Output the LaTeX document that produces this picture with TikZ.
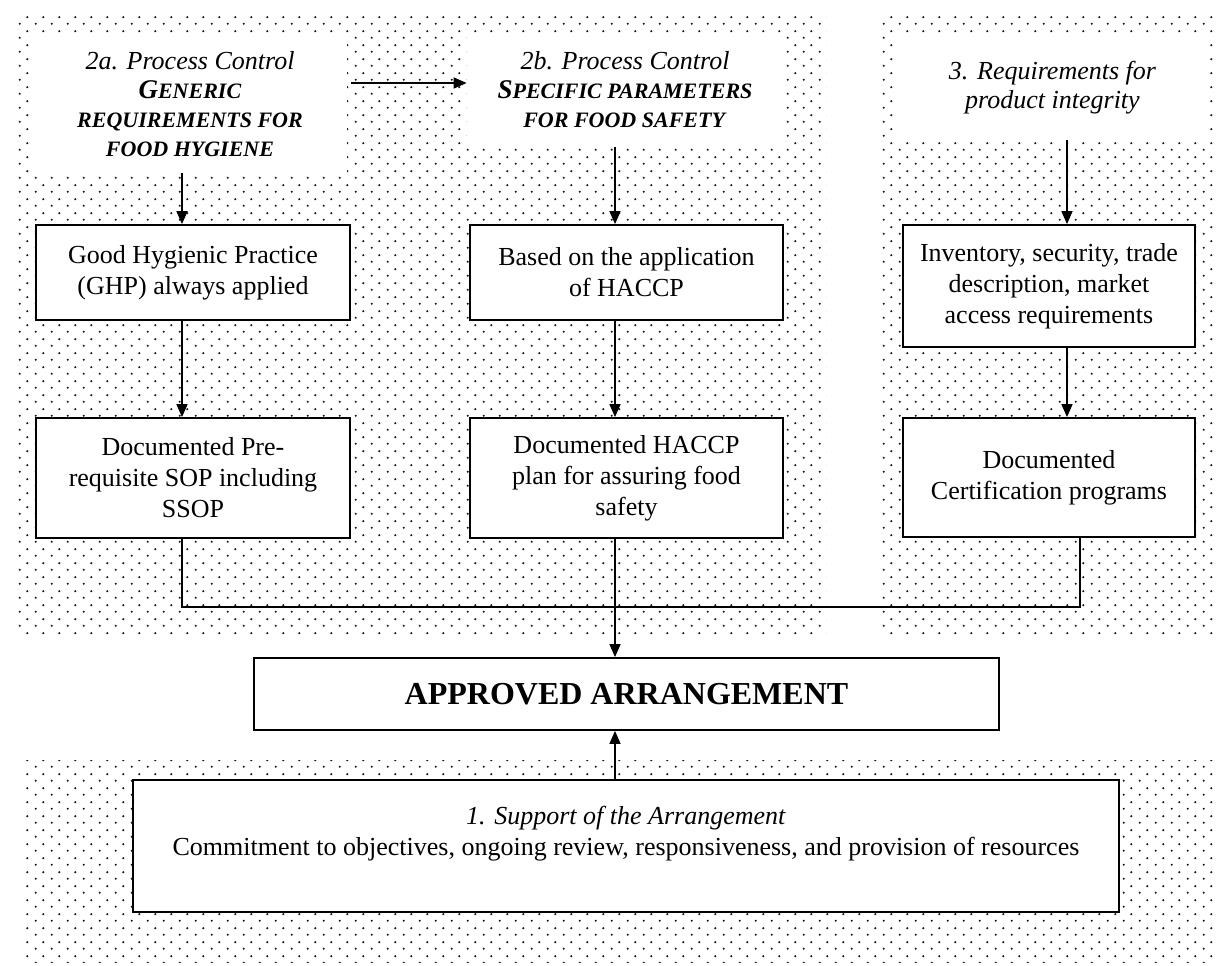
\documentclass[tikz,border=0pt]{standalone}
\usepackage{fontspec}
\setmainfont{Liberation Serif}
\usetikzlibrary{arrows.meta,patterns}

% screen of dots behind the panels
\pgfdeclarepatternformonly{hdots}{\pgfpointorigin}{\pgfpoint{8pt}{7pt}}{\pgfpoint{8pt}{7pt}}{%
  \pgfpathcircle{\pgfpoint{2pt}{1.75pt}}{0.62pt}%
  \pgfpathcircle{\pgfpoint{6pt}{5.25pt}}{0.62pt}%
  \pgfusepath{fill}%
}
\newcommand{\capsm}[1]{{\fontsize{11pt}{14.5pt}\selectfont #1}}

\begin{document}
\begin{tikzpicture}[x=0.5pt,y=-0.5pt,
  panel/.style={pattern=hdots,pattern color=black!90},
  head/.style={fill=white,inner sep=0pt,align=center,font=\fontsize{13pt}{14.5pt}\selectfont},
  box/.style={draw,fill=white,line width=0.9pt,inner sep=0pt,align=center,font=\fontsize{13pt}{15.5pt}\selectfont},
  arr/.style={line width=0.75pt,-{Triangle[length=6.5pt,width=5.5pt]}},
  link/.style={line width=0.75pt}]
  \useasboundingbox (0,0) rectangle (1222,965);
  \fill[white] (0,0) rectangle (1222,965);
  % dotted panels
  \fill[panel] (15,13) rectangle (826,637);
  \fill[panel] (880,13) rectangle (1218,637);
  \fill[panel] (22,760) rectangle (1218,962);
  % headers
  \node[head,minimum width=157pt,minimum height=68.5pt] (h2a) at (190,104)
    {\textit{2a. Process Control}\\ \textbf{\textit{{\fontsize{13.5pt}{14.5pt}\selectfont G}\capsm{ENERIC}}}\\
     \textbf{\textit{\capsm{REQUIREMENTS FOR}}}\\ \textbf{\textit{\capsm{FOOD HYGIENE}}}};
  \node[head,minimum width=158pt,minimum height=57pt] (h2b) at (625,90)
    {\textit{2b. Process Control}\\ \textbf{\textit{{\fontsize{13.5pt}{14.5pt}\selectfont S}\capsm{PECIFIC PARAMETERS}}}\\
     \textbf{\textit{\capsm{FOR FOOD SAFETY}}}};
  \node[head,minimum width=157.5pt,minimum height=52.5pt] (h3) at (1052.5,87.5)
    {\textit{3. Requirements for}\\ \textit{product integrity}};
  % boxes
  \node[box,minimum width=157pt,minimum height=47.5pt] (ghp) at (193,272.5)
    {Good Hygienic Practice\\(GHP) always applied};
  \node[box,minimum width=157pt,minimum height=60pt] (prq) at (193,478)
    {Documented Pre-\\requisite SOP including\\SSOP};
  \node[box,minimum width=156.5pt,minimum height=47.5pt] (hac) at (626.5,272.5)
    {Based on the application\\of HACCP};
  \node[box,minimum width=156.5pt,minimum height=60pt] (plan) at (626.5,478)
    {Documented HACCP\\plan for assuring food\\safety};
  \node[box,minimum width=146pt,minimum height=61pt] (inv) at (1049,286)
    {Inventory, security, trade\\description, market\\access requirements};
  \node[box,minimum width=146pt,minimum height=59.5pt] (cert) at (1049,477.5)
    {Documented\\Certification programs};
  \node[box,minimum width=372.5pt,minimum height=36pt,font=\fontsize{16pt}{19pt}\selectfont\bfseries] (appr) at (626.5,694)
    {APPROVED ARRANGEMENT};
  \node[box,minimum width=493pt,minimum height=66pt] (sup) at (626,846)
    {\textit{1. Support of the Arrangement}\\Commitment to objectives, ongoing review, responsiveness, and provision of resources\\ ~};
  % columns of the connectors
  \coordinate (colA) at (182,0);
  \coordinate (colB) at (615,0);
  \coordinate (colC) at (1067,0);
  \coordinate (colD) at (1080,0);
  \coordinate (rowH) at (0,83);
  \coordinate (bus) at (0,607);
  % connectors
  \draw[arr] ([xshift=2pt]h2a.east |- rowH) -- (h2b.west |- rowH);
  \draw[arr] (h2a.south -| colA) -- (ghp.north -| colA);
  \draw[arr] (h2b.south -| colB) -- (hac.north -| colB);
  \draw[arr] (h3.south -| colC) -- (inv.north -| colC);
  \draw[arr] (ghp.south -| colA) -- (prq.north -| colA);
  \draw[arr] (hac.south -| colB) -- (plan.north -| colB);
  \draw[arr] (inv.south -| colC) -- (cert.north -| colC);
  \draw[link] (prq.south -| colA) -- (colA |- bus) -- (colD |- bus) -- (cert.south -| colD);
  \draw[arr] (plan.south -| colB) -- (appr.north -| colB);
  \draw[arr] (sup.north -| colB) -- (appr.south -| colB);
\end{tikzpicture}
\end{document}
